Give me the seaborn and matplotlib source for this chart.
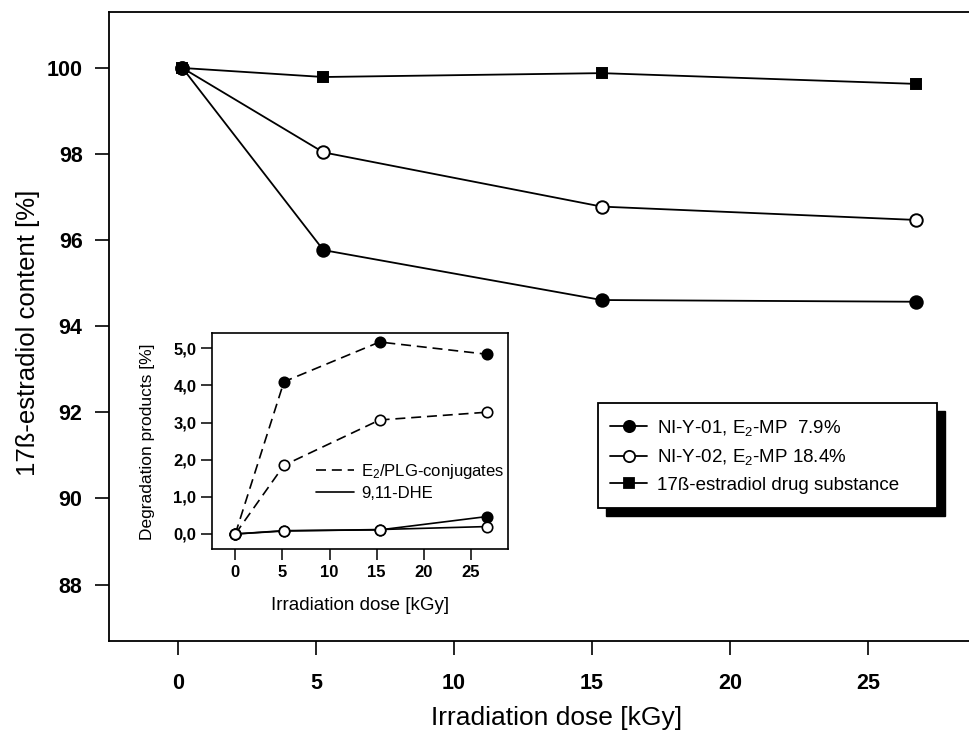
import matplotlib
matplotlib.use("Agg")
import matplotlib.pyplot as plt
from matplotlib.lines import Line2D
from matplotlib.patches import Rectangle
import seaborn as sns
import pandas as pd

# ---------------- data ----------------
dose_main = [0.15, 5.26, 15.35, 26.75]
ni01 = [100.0, 95.77, 94.61, 94.57]
ni02 = [100.0, 98.04, 96.78, 96.47]
drug = [100.0, 99.79, 99.88, 99.63]

dose_inset = [0.0, 5.16, 15.3, 26.7]
conj01 = [0.0, 4.10, 5.17, 4.84]
conj02 = [0.0, 1.85, 3.07, 3.28]
dhe01 = [0.0, 0.09, 0.11, 0.47]
dhe02 = [0.0, 0.08, 0.12, 0.20]

main_xticks = [0, 5, 10, 15, 20, 25]
main_yticks = [88, 90, 92, 94, 96, 98, 100]
inset_xticks = [0, 5, 10, 15, 20, 25]
inset_yticks = [0, 1, 2, 3, 4, 5]
inset_yticklabels = ["0,0", "1,0", "2,0", "3,0", "4,0", "5,0"]

labels_main = [r"NI-Y-01, E$_2$-MP  7.9%", r"NI-Y-02, E$_2$-MP 18.4%",
               "17ß-estradiol drug substance"]
labels_inset = [r"E$_2$/PLG-conjugates", "9,11-DHE"]

# ---------------- style ----------------
sns.set_theme(style="ticks")
plt.rcParams["font.family"] = ["Liberation Sans", "DejaVu Sans"]
plt.rcParams["mathtext.fontset"] = "custom"
plt.rcParams["mathtext.rm"] = "Liberation Sans"
plt.rcParams["mathtext.it"] = "Liberation Sans:italic"
plt.rcParams["mathtext.bf"] = "Liberation Sans:bold"
for k in ["text.color", "axes.labelcolor", "xtick.color", "ytick.color",
          "axes.edgecolor"]:
    plt.rcParams[k] = "black"

W, H = 970, 732
fig = plt.figure(figsize=(W / 100, H / 100), dpi=100)

def fx(px):
    return px / W

def fy(py):
    return 1 - py / H

# main axes
left, right, top, bottom = 109, 970, 12, 641
ax = fig.add_axes([fx(left), fy(bottom), fx(right - left), (bottom - top) / H])

df_main = pd.DataFrame({
    "dose": dose_main * 3,
    "content": ni01 + ni02 + drug,
    "series": [labels_main[0]] * 4 + [labels_main[1]] * 4 + [labels_main[2]] * 4,
})

styles = {
    labels_main[0]: dict(marker="o", mfc="black", ms=9),
    labels_main[1]: dict(marker="o", mfc="white", ms=9),
    labels_main[2]: dict(marker="s", mfc="black", ms=7.5),
}
for name in labels_main:
    sub = df_main[df_main.series == name]
    st = styles[name]
    sns.lineplot(data=sub, x="dose", y="content", ax=ax, color="black", lw=1.3,
                 marker=st["marker"], markersize=st["ms"], markerfacecolor=st["mfc"],
                 markeredgecolor="black", markeredgewidth=1.4, legend=False, zorder=3)

ax.set_xlim((left - 178.3) / 27.58, (right - 178.3) / 27.58)
ax.set_ylim(86.69, 101.30)
ax.set_xticks(main_xticks)
ax.set_yticks(main_yticks)
ax.set_xticklabels([str(t) for t in main_xticks], fontsize=15.5, fontweight="bold")
ax.set_yticklabels([str(t) for t in main_yticks], fontsize=15.5, fontweight="bold")
ax.tick_params(axis="both", direction="out", length=10, width=1.2, color="black")
ax.tick_params(axis="x", pad=13)
ax.tick_params(axis="y", pad=9)
for s in ["left", "bottom", "top"]:
    ax.spines[s].set_linewidth(1.3)
    ax.spines[s].set_color("black")
ax.spines["right"].set_visible(False)
ax.set_xlabel("Irradiation dose [kGy]", fontsize=19)
ax.set_ylabel("17ß-estradiol content [%]", fontsize=18.5)
ax.xaxis.set_label_coords((557 - left) / (right - left), -(718 - bottom) / (bottom - top))
ax.yaxis.set_label_coords((28 - left) / (right - left), 0.49)
ax.xaxis.label.set_va("center")
ax.yaxis.label.set_va("center")

# main legend with black shadow
lx0, ly0, lx1, ly1 = 598, 403, 937, 508
fig.patches.append(Rectangle((fx(lx0 + 8), fy(ly1 + 8)), fx(lx1 - lx0), (ly1 - ly0) / H,
                             transform=fig.transFigure, facecolor="black",
                             edgecolor="black", zorder=5))
fig.patches.append(Rectangle((fx(lx0), fy(ly1)), fx(lx1 - lx0), (ly1 - ly0) / H,
                             transform=fig.transFigure, facecolor="white",
                             edgecolor="black", lw=1.3, zorder=6))
handles = [Line2D([], [], color="black", lw=1.3, marker=styles[n]["marker"],
                  markersize=styles[n]["ms"] * 0.9, markerfacecolor=styles[n]["mfc"],
                  markeredgecolor="black", markeredgewidth=1.3) for n in labels_main]
leg = fig.legend(handles, labels_main, loc="upper left",
                 bbox_to_anchor=(fx(lx0 + 12), fy(ly0 + 15)),
                 bbox_transform=fig.transFigure, frameon=False, fontsize=13.5,
                 handlelength=2.0, handletextpad=0.5, labelspacing=0.5,
                 borderaxespad=0, borderpad=0)
leg.set_zorder(7)

# inset axes
il, ir, it, ib = 211.7, 508.3, 333.3, 549.3
axi = fig.add_axes([fx(il), fy(ib), fx(ir - il), (ib - it) / H])
axi.set_facecolor("white")
axi.set_zorder(4)

DASH = (6, 3.5)
inset_series = [
    (conj01, "black", DASH),
    (conj02, "white", DASH),
    (dhe01, "black", None),
    (dhe02, "white", None),
]
for vals, mfc, dash in inset_series:
    d = pd.DataFrame({"dose": dose_inset, "val": vals})
    sns.lineplot(data=d, x="dose", y="val", ax=axi, color="black", lw=1.2,
                 marker="o", markersize=7.5, markerfacecolor=mfc,
                 markeredgecolor="black", markeredgewidth=1.2, legend=False,
                 zorder=3)
for line, (vals, mfc, dash) in zip(axi.get_lines(), inset_series):
    if dash is not None:
        line.set_dashes(dash)

axi.set_xlim((il - 235.3) / 9.43, (ir - 235.3) / 9.43)
axi.set_ylim(-(ib - 534) / 37.1, 5 + (348.3 - it) / 37.1)
axi.set_xticks(inset_xticks)
axi.set_yticks(inset_yticks)
axi.set_xticklabels([str(t) for t in inset_xticks], fontsize=12, fontweight="bold")
axi.set_yticklabels(inset_yticklabels, fontsize=12, fontweight="bold")
axi.tick_params(axis="both", direction="out", length=8, width=1.1, color="black")
axi.tick_params(axis="x", pad=3)
axi.tick_params(axis="y", pad=3)
for s in axi.spines.values():
    s.set_linewidth(1.2)
    s.set_color("black")
axi.set_xlabel("Irradiation dose [kGy]", fontsize=13.5)
axi.set_ylabel("Degradation products [%]", fontsize=12.5)
axi.xaxis.set_label_coords(0.5, -(605 - ib) / (ib - it))
axi.yaxis.set_label_coords((148 - il) / (ir - il), 0.5)
axi.xaxis.label.set_va("center")
axi.yaxis.label.set_va("center")

ih = [Line2D([], [], color="black", lw=1.2, dashes=DASH),
      Line2D([], [], color="black", lw=1.2)]
axi.legend(ih, labels_inset, loc="upper left",
           bbox_to_anchor=(fx(316), fy(462)), bbox_transform=fig.transFigure,
           frameon=False, fontsize=12, handlelength=2.3, handletextpad=0.4,
           labelspacing=0.3, borderaxespad=0, borderpad=0)

fig.savefig("out.png", dpi=100)
